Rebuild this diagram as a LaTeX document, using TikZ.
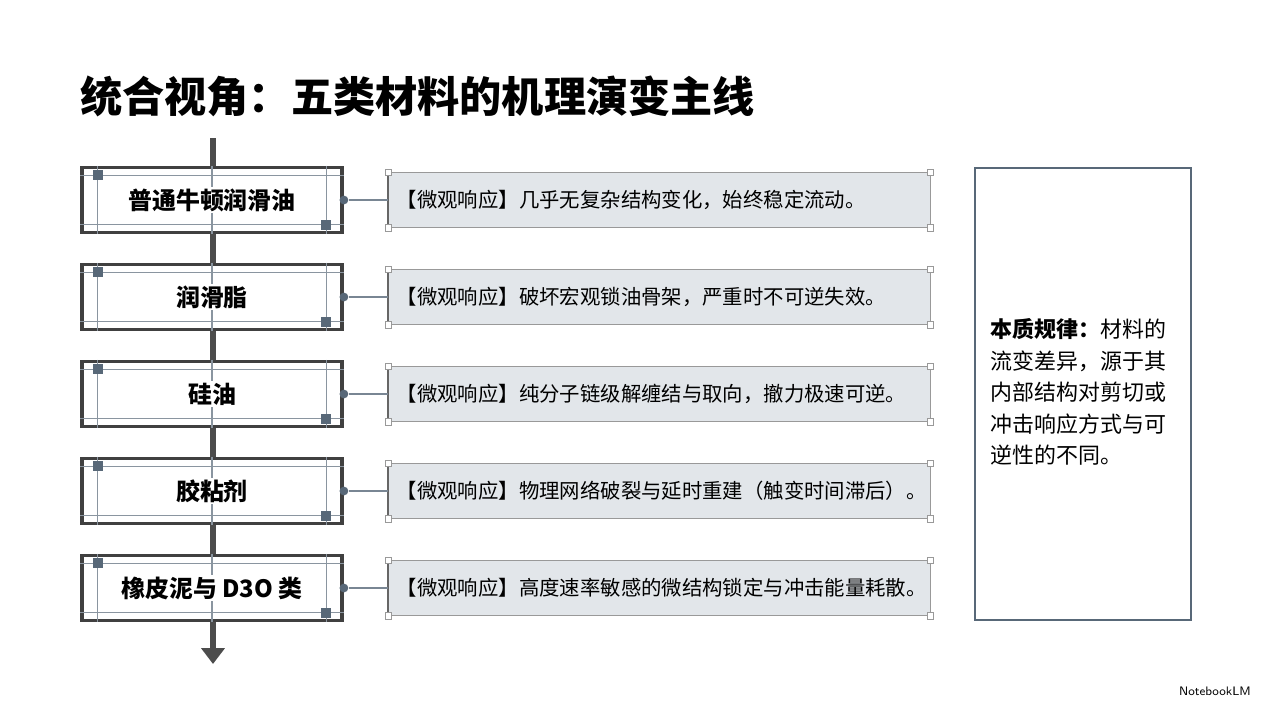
\documentclass[tikz,border=0pt]{standalone}
\usetikzlibrary{arrows.meta, positioning}
\usepackage{fontspec}
\setmainfont{Noto Sans CJK SC}
\definecolor{slate}{RGB}{88,104,120}
\definecolor{paleslate}{RGB}{226,230,234}
\def\rowsep{97}

\begin{document}
\begin{tikzpicture}[x=0.02cm,y=-0.02cm]
    \tikzstyle{stage}=[draw=black!75,line width=2.2pt,fill=white,minimum width=5.2cm,minimum height=1.3cm,inner sep=0pt]
    \tikzstyle{guide}=[draw=slate!70,line width=0.6pt]
    \tikzstyle{micro}=[draw=gray!80,fill=paleslate,minimum width=10.84cm,minimum height=1.1cm,inner sep=0pt,anchor=west,text width=10.5cm,font=\fontsize{11.6}{13}\selectfont]
    \tikzstyle{handle}=[draw=gray!80,fill=white,minimum size=3.5pt,inner sep=0pt]
    \tikzstyle{knob}=[circle,fill=slate,minimum size=5pt,inner sep=0pt]

    \useasboundingbox (0,0) rectangle (1269,708);

    % Title
    \node[anchor=west,font=\bfseries\fontsize{24}{28}\selectfont] (title) at (74,96) {统合视角：五类材料的机理演变主线};

    % Spine with arrow
    \coordinate (top) at (213,138);
    \coordinate (bottom) at (213,664);
    \draw[line width=3.2pt,black!70,-{Triangle[length=9pt,width=13pt]}] (top) -- (bottom);

    % Stages and micro responses
    \foreach \name/\label/\resp [count=\i from 0] in {
        1/普通牛顿润滑油/几乎无复杂结构变化，始终稳定流动。,
        2/润滑脂/破坏宏观锁油骨架，严重时不可逆失效。,
        3/硅油/纯分子链级解缠结与取向，撤力极速可逆。,
        4/胶粘剂/物理网络破裂与延时重建（触变时间滞后）。,
        5/橡皮泥与 D3O 类/高度速率敏感的微结构锁定与冲击能量耗散。}
    {
        \node[stage] (S-\name) at (212,200+\i*\rowsep) {};
        \draw[guide] ([yshift=-5.5pt]S-\name.north west) -- ([yshift=-5.5pt]S-\name.north east);
        \draw[guide] ([yshift=5.5pt]S-\name.south west) -- ([yshift=5.5pt]S-\name.south east);
        \draw[guide] ([xshift=10pt]S-\name.north west) -- ([xshift=10pt]S-\name.south west);
        \draw[guide] ([xshift=-10pt]S-\name.north east) -- ([xshift=-10pt]S-\name.south east);
        \draw[guide] (S-\name.north) -- (S-\name.south);
        \node[fill=white,inner sep=1pt,font=\bfseries\fontsize{13.6}{16}\selectfont] at (S-\name) {\label};
        \fill[slate] ([xshift=10pt,yshift=-5.5pt]S-\name.north west) +(-2.8pt,-2.8pt) rectangle +(2.8pt,2.8pt);
        \fill[slate] ([xshift=-10pt,yshift=5.5pt]S-\name.south east) +(-2.8pt,-2.8pt) rectangle +(2.8pt,2.8pt);

        \node[micro] (M-\name) at (388,200+\i*\rowsep) {【微观响应】\resp};
        \draw[black!60,line width=0.9pt] (M-\name.north west) -- (M-\name.south west);
        \foreach \c in {north west,north east,south west,south east}
            \node[handle] at (M-\name.\c) {};
        \node[knob] (K-\name) at (S-\name.east) {};
        \draw[slate!80,line width=0.6pt] (K-\name) -- (M-\name.west);
    }

    % Summary box
    \node[draw=slate,line width=1.2pt,minimum width=4.32cm,minimum height=9.04cm,inner sep=0pt] (law) at (1083,394) {};
    \node[anchor=north west,align=left,inner sep=0pt,font=\fontsize{12.5}{18}\selectfont] (lawtext) at (990,318)
        {\textbf{本质规律：}材料的\\流变差异，源于其\\内部结构对剪切或\\冲击响应方式与可\\逆性的不同。};

    % Watermark
    \node[anchor=east,font=\sffamily\fontsize{7}{8}\selectfont] (mark) at (1257,691) {NotebookLM};
\end{tikzpicture}
\end{document}
